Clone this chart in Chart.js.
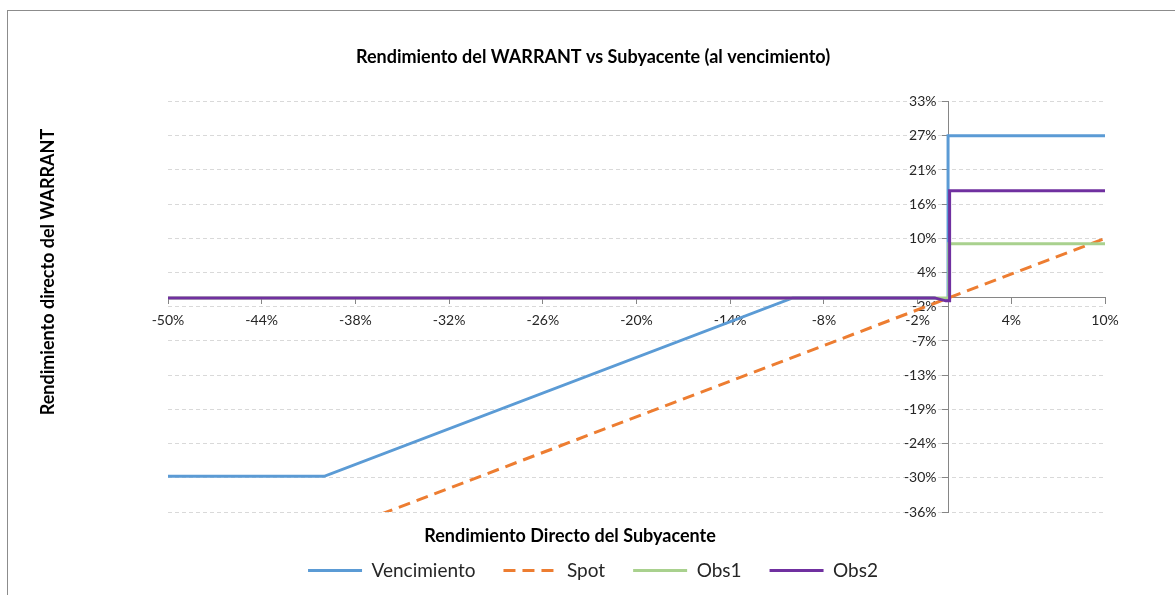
<!DOCTYPE html>
<html lang="es">
<head>
<meta charset="utf-8">
<title>Rendimiento del WARRANT vs Subyacente</title>
<script src="https://cdn.jsdelivr.net/npm/chart.js@4.4.1/dist/chart.umd.min.js"></script>
<style>
  body { margin: 0; background: #fff; }
  #contenedor { position: relative; width: 1175px; height: 595px; overflow: hidden; font-family: Lato, 'Liberation Sans', sans-serif; }
  #marco { position: absolute; left: 7px; top: 10px; width: 1200px; height: 620px; border: 1px solid #8c8c8c; pointer-events: none; }
  .titulo-eje { position: absolute; font-weight: bold; font-size: 18px; color: #000; white-space: nowrap; transform: translate(-50%, -50%); }
  #titulo-x { left: 570px; top: 535px; }
  #titulo-y { left: 47px; top: 272px; transform: translate(-50%, -50%) rotate(-90deg); }
</style>
</head>
<body>
<div id="contenedor">
  <canvas id="grafico" width="1175" height="595"></canvas>
  <div id="marco"></div>
  <div class="titulo-eje" id="titulo-x">Rendimiento Directo del Subyacente</div>
  <div class="titulo-eje" id="titulo-y">Rendimiento directo del WARRANT</div>
</div>
<script>
// datos (en %)
const xTickLabels = ['-50%', '-44%', '-38%', '-32%', '-26%', '-20%', '-14%', '-8%', '-2%', '4%', '10%'];
const yTickLabels = ['-36%', '-30%', '-24%', '-19%', '-13%', '-7%', '-2%', '4%', '10%', '16%', '21%', '27%', '33%'];

const vencimientoX = [-50, -40, -10, -1, -0.05, -0.05, 10];
const vencimientoY = [-30, -30, 0, 0, -0.4, 27.25, 27.25];

const spotX = [-50, 10];
const spotY = [-50, 10];

const obs1X = [-50, 0, 0, 10];
const obs1Y = [0, 0, 9.1, 9.1];

const obs2X = [-50, -0.9, -0.2, 0.05, 0.05, 10];
const obs2Y = [0, 0, -0.5, -0.5, 18, 18];

function puntos(xs, ys) {
    return xs.map((x, i) => ({ x: x, y: ys[i] }));
}

Chart.defaults.font.family = 'Lato';
Chart.defaults.color = '#262626';

const fuenteEjes = { family: 'Lato', size: 14 };
const generarLeyenda = Chart.defaults.plugins.legend.labels.generateLabels;

new Chart(document.getElementById('grafico'), {
    type: 'line',
    data: {
        datasets: [
            { label: 'Vencimiento', data: puntos(vencimientoX, vencimientoY), borderColor: '#5B9BD5', backgroundColor: '#5B9BD5', order: 4 },
            { label: 'Spot', data: puntos(spotX, spotY), borderColor: '#ED7D31', backgroundColor: '#ED7D31', borderDash: [12, 7], order: 3 },
            { label: 'Obs1', data: puntos(obs1X, obs1Y), borderColor: '#A9D18E', backgroundColor: '#A9D18E', order: 2 },
            { label: 'Obs2', data: puntos(obs2X, obs2Y), borderColor: '#7030A0', backgroundColor: '#7030A0', order: 1 }
        ]
    },
    options: {
        responsive: false,
        animation: false,
        elements: {
            line: { borderWidth: 3, tension: 0, fill: false },
            point: { radius: 0, hoverRadius: 0 }
        },
        layout: { padding: { left: 81, right: 70, top: 0, bottom: 5 } },
        plugins: {
            tooltip: { enabled: false },
            title: {
                display: true,
                text: 'Rendimiento del WARRANT vs Subyacente (al vencimiento)',
                color: '#000',
                font: { family: 'Lato', size: 18, weight: 'bold' },
                padding: { top: 46, bottom: 34 }
            },
            legend: {
                position: 'bottom',
                reverse: true,
                labels: {
                    usePointStyle: true,
                    pointStyle: 'line',
                    pointStyleWidth: 54,
                    padding: 28,
                    color: '#262626',
                    font: { family: 'Lato', size: 19 },
                    generateLabels: chart => {
                        const items = generarLeyenda(chart);
                        items.forEach(item => {
                            const ds = chart.data.datasets[item.datasetIndex];
                            item.lineWidth = 3;
                            item.lineDash = ds.borderDash || [];
                        });
                        return items;
                    }
                }
            }
        },
        scales: {
            x: {
                type: 'linear',
                position: { y: 0 },
                min: -50,
                max: 10,
                ticks: {
                    stepSize: 6,
                    autoSkip: false,
                    maxRotation: 0,
                    padding: 8,
                    font: fuenteEjes,
                    color: '#262626',
                    callback: (v, i) => xTickLabels[i]
                },
                grid: { drawOnChartArea: false, tickLength: 6, color: '#868686', tickColor: '#868686' },
                border: { color: '#868686', width: 1 }
            },
            y: {
                type: 'linear',
                position: { x: 0 },
                min: -36,
                max: 33,
                ticks: {
                    stepSize: 5.75,
                    font: fuenteEjes,
                    color: '#262626',
                    // el eje centrado no aplica padding: se separa con espacios
                    callback: (v, i) => yTickLabels[i] + '\u2003\u2009'
                },
                grid: { color: '#d9d9d9', tickLength: 6, tickColor: '#868686', tickBorderDash: [] },
                border: { color: '#868686', width: 1, dash: [4, 3] }
            },
            yPad: {
                type: 'linear',
                position: 'left',
                min: 0,
                max: 1,
                ticks: { display: false },
                grid: { display: false, drawTicks: false },
                border: { display: false },
                afterFit: s => { s.width = 87; }
            },
            xPad: {
                type: 'linear',
                position: 'bottom',
                min: 0,
                max: 1,
                ticks: { display: false },
                grid: { display: false, drawTicks: false },
                border: { display: false },
                afterFit: s => { s.height = 21; }
            }
        }
    }
});
</script>
</body>
</html>
